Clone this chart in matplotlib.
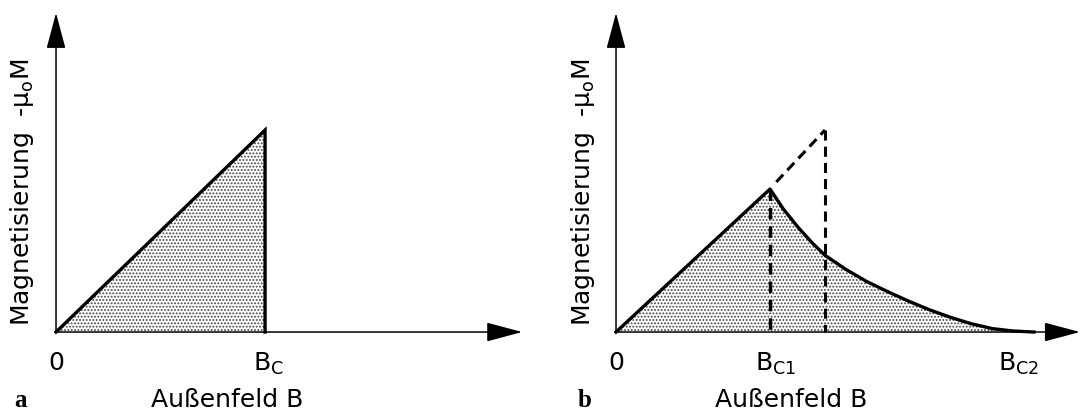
import matplotlib
matplotlib.use("Agg")
import matplotlib.pyplot as plt

plt.rcParams['font.family'] = ['DejaVu Sans']
plt.rcParams['mathtext.default'] = 'regular'
plt.rcParams['hatch.linewidth'] = 0.9
plt.rcParams['hatch.color'] = '#444444'

# panel a: ideal type-I superconductor
B_a = [0.0, 1.0, 1.0]
M_a = [0.0, 1.0, 0.0]

# panel b: type-II superconductor
B_b = [0.0, 0.737, 0.80, 0.87, 0.94, 1.00, 1.10, 1.20, 1.30, 1.40, 1.50,
       1.60, 1.70, 1.80, 1.90, 2.00]
M_b = [0.0, 0.708, 0.61, 0.52, 0.44, 0.38, 0.31, 0.25, 0.20, 0.153,
       0.110, 0.073, 0.041, 0.017, 0.005, 0.0]
Bc1, Mc1 = 0.737, 0.708
Bc, Mc = 1.0, 1.0

ylabel = 'Magnetisierung  -μ$_o$M'
xlabel = 'Außenfeld B'

fig = plt.figure(figsize=(10.82, 4.12), dpi=100)
ax_a = fig.add_axes([0.0, 0.0, 0.5, 1.0])
ax_b = fig.add_axes([0.5, 0.0, 0.5, 1.0])

ax_a.set_xlim(-0.268, 2.32)
ax_b.set_xlim(-0.359, 2.23)
for ax in (ax_a, ax_b):
    ax.set_ylim(-0.396, 1.644)
    ax.axis('off')


def axes_arrows(ax, xend, yend):
    ap = dict(arrowstyle='-|>,head_length=0.75,head_width=0.2',
              mutation_scale=30, lw=1.1, color='black',
              shrinkA=0, shrinkB=0)
    ax.annotate('', xy=(xend, 0), xytext=(0, 0), arrowprops=ap)
    ax.annotate('', xy=(0, yend), xytext=(0, 0), arrowprops=ap)


def stipple(ax, x, y):
    ax.fill_between(x, y, 0, facecolor='white', hatch='.....',
                    edgecolor='#444444', linewidth=0)


fs = 18

# --- a ---
stipple(ax_a, B_a[:2], M_a[:2])
ax_a.plot(B_a, M_a, color='black', lw=2.4, solid_joinstyle='miter')
axes_arrows(ax_a, 2.23, 1.58)
ax_a.text(0, -0.19, '0', fontsize=fs, ha='center', va='baseline')
ax_a.text(0.94, -0.19, '$B_C$', fontsize=fs, ha='left', va='baseline')
ax_a.text(0.82, -0.37, xlabel, fontsize=fs, ha='center', va='baseline')
ax_a.text(-0.163, 0.69, ylabel, fontsize=fs, rotation=90,
          ha='center', va='center')
ax_a.text(-0.17, -0.37, 'a', fontsize=18, fontweight='bold',
          family='Liberation Serif', ha='center', va='baseline')

# --- b ---
stipple(ax_b, B_b, M_b)
ax_b.plot(B_b, M_b, color='black', lw=2.4, solid_joinstyle='round')
dash = (0, (3.3, 2.0))
ax_b.plot([Bc1 + 0.03, Bc], [Mc1 + 0.035, Mc], color='black', lw=2.2,
          linestyle=dash)
ax_b.plot([Bc, Bc], [Mc, 0], color='black', lw=2.2, linestyle=dash)
ax_b.plot([Bc1, Bc1], [Mc1, 0], color='black', lw=2.5, linestyle=dash)
axes_arrows(ax_b, 2.22, 1.58)
ax_b.text(0, -0.19, '0', fontsize=fs, ha='center', va='baseline')
ax_b.text(Bc1 - 0.07, -0.19, '$B_{C1}$', fontsize=fs, ha='left',
          va='baseline')
ax_b.text(1.83, -0.19, '$B_{C2}$', fontsize=fs, ha='left', va='baseline')
ax_b.text(0.84, -0.37, xlabel, fontsize=fs, ha='center', va='baseline')
ax_b.text(-0.158, 0.69, ylabel, fontsize=fs, rotation=90,
          ha='center', va='center')
ax_b.text(-0.148, -0.37, 'b', fontsize=18, fontweight='bold',
          family='Liberation Serif', ha='center', va='baseline')

fig.savefig('out.png', dpi=100)
